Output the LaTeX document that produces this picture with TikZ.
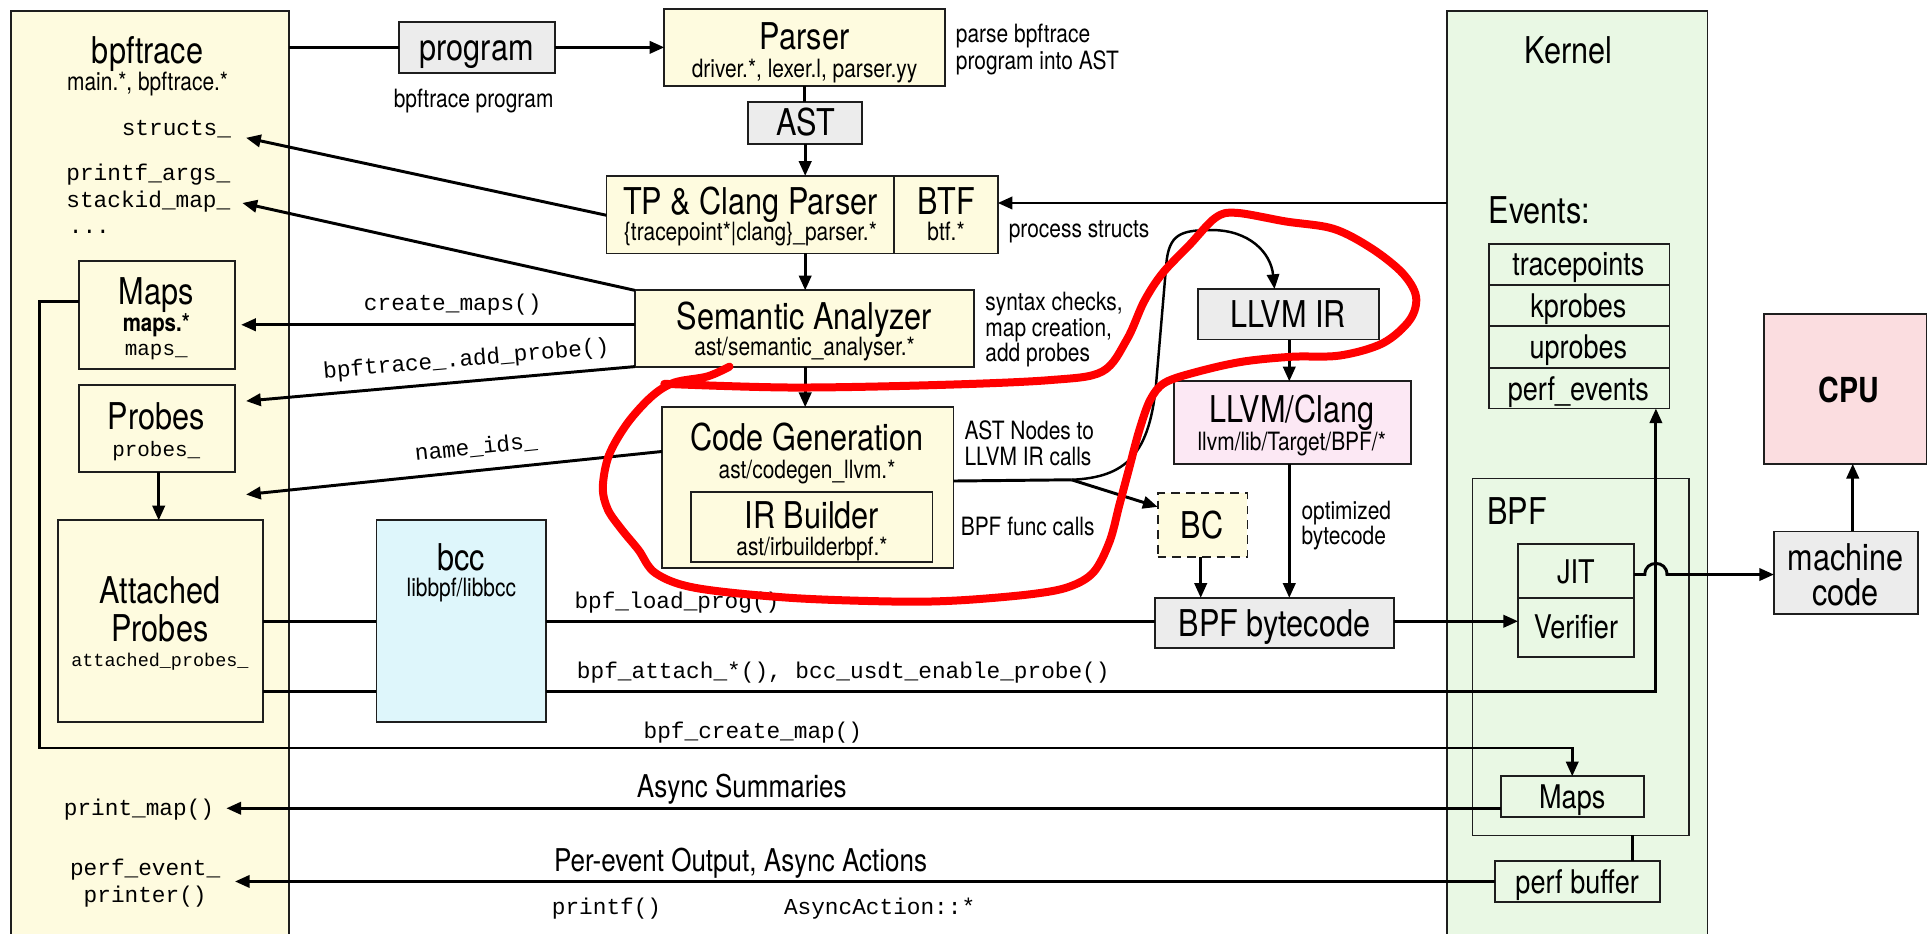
\documentclass[tikz,border=0pt]{standalone}
\usepackage{fontspec}
\setmainfont{TeX Gyre Heros}[FakeStretch=0.83]
\newfontfamily\monofnt{Liberation Mono}
\usetikzlibrary{arrows.meta}
\definecolor{cyel}{RGB}{254,251,223}
\definecolor{cgry}{RGB}{236,236,236}
\definecolor{ccyn}{RGB}{222,246,251}
\definecolor{cpnk}{RGB}{252,232,244}
\definecolor{ccpu}{RGB}{251,221,224}
\definecolor{cgrn}{RGB}{233,248,228}
\definecolor{cbrd}{RGB}{30,30,30}
\definecolor{cred}{RGB}{255,0,0}
\tikzset{
  box/.style={draw=cbrd, line width=1.5pt, inner sep=0pt, outer sep=0pt, anchor=north west},
  ybox/.style={box, fill=cyel},
  gbox/.style={box, fill=cgry},
  kbox/.style={box, fill=cgrn},
  ln/.style={line width=2.4pt, draw=black},
  arr/.style={ln, -{Triangle[length=12pt,width=10pt]}},
  lbl/.style={inner sep=0pt, outer sep=0pt},
  ttl/.style={lbl, font=\fontsize{30}{34}\selectfont, text height=21pt, text depth=0pt},
  sml/.style={lbl, font=\fontsize{20.5}{24}\selectfont, text height=14.5pt, text depth=0pt},
  smlb/.style={lbl, font=\bfseries\fontsize{20}{24}\selectfont, text height=14.5pt, text depth=0pt},
  med/.style={lbl, font=\fontsize{26.5}{30}\selectfont, text height=18.5pt, text depth=0pt},
  asy/.style={lbl, font=\fontsize{25.5}{30}\selectfont, text height=18pt, text depth=0pt},
  mon/.style={lbl, font=\monofnt\fontsize{18.5}{22}\selectfont, text height=11pt, text depth=0pt},
  mons/.style={lbl, font=\monofnt\fontsize{17}{20}\selectfont, text height=10pt, text depth=0pt},
  monxs/.style={lbl, font=\monofnt\fontsize{15}{18}\selectfont, text height=9pt, text depth=0pt},
}
\begin{document}
\begin{tikzpicture}[x=1pt,y=-1pt]
\useasboundingbox (0,0) rectangle (1568,759);
\clip (0,0) rectangle (1568,759);
% ---- big columns
\node[ybox, line width=1.3pt, minimum width=226pt, minimum height=770pt] (bpf) at (9,9) {};
\node[kbox, line width=1.3pt, minimum width=212pt, minimum height=770pt] (kernel) at (1176,9) {};
% ---- boxes
\node[gbox, minimum width=127pt, minimum height=41pt] (program) at (324,18) {};
\node[ybox, minimum width=228pt, minimum height=63pt] (parser) at (540,7) {};
\node[gbox, minimum width=93pt, minimum height=34pt] (ast) at (608,83) {};
\node[ybox, minimum width=234pt, minimum height=63pt] (tp) at (493,143) {};
\node[ybox, minimum width=84pt, minimum height=63pt] (btf) at (727,143) {};
\node[ybox, minimum width=276pt, minimum height=62pt] (sem) at (516,236) {};
\node[ybox, minimum width=237pt, minimum height=131pt] (cg) at (538,331) {};
\node[ybox, minimum width=196pt, minimum height=57pt] (irb) at (562,400) {};
\node[gbox, minimum width=147pt, minimum height=41pt] (llvmir) at (974,235) {};
\node[box, fill=cpnk, minimum width=193pt, minimum height=67pt] (clang) at (954,310) {};
\node[ybox, dashed, dash pattern=on 7pt off 5pt, minimum width=73pt, minimum height=52pt] (bc) at (941,401) {};
\node[gbox, minimum width=194pt, minimum height=41pt] (bytecode) at (939,486) {};
\node[ybox, minimum width=127pt, minimum height=88pt] (maps) at (64,212) {};
\node[ybox, minimum width=127pt, minimum height=71pt] (probes) at (64,313) {};
\node[ybox, minimum width=167pt, minimum height=164pt] (attached) at (47,423) {};
\node[box, fill=ccyn, minimum width=138pt, minimum height=164pt] (bcc) at (306,423) {};
\node[kbox, minimum width=147pt, minimum height=34pt] (ev1) at (1210,198) {};
\node[kbox, minimum width=147pt, minimum height=33pt] (ev2) at (1210,232) {};
\node[kbox, minimum width=147pt, minimum height=34pt] (ev3) at (1210,265) {};
\node[kbox, minimum width=147pt, minimum height=33pt] (ev4) at (1210,299) {};
\node[kbox, line width=1.3pt, minimum width=176pt, minimum height=290pt] (bpfbox) at (1197,389) {};
\node[kbox, minimum width=94pt, minimum height=44pt] (jit) at (1234,442) {};
\node[kbox, minimum width=94pt, minimum height=48pt] (verifier) at (1234,486) {};
\node[kbox, minimum width=116pt, minimum height=33pt] (kmaps) at (1220,631) {};
\node[kbox, minimum width=134pt, minimum height=33pt] (perfbuf) at (1215,700) {};
\node[box, fill=ccpu, minimum width=132pt, minimum height=122pt] (cpu) at (1434,255) {};
\node[gbox, minimum width=117pt, minimum height=67pt] (mcode) at (1442,432) {};
% ---- free ends
\coordinate (tStructs) at (200,112);
\coordinate (tStack) at (197,165);
\coordinate (tMaps) at (196,264);
\coordinate (tProbes) at (200,326);
\coordinate (tNames) at (200,402);
\coordinate (tPrint) at (184,657);
\coordinate (tPerf) at (191,716.5);
\coordinate (split) at (871,390);
% ---- connectors
\draw[ln] (bpf.east |- program.west) -- (program.west);
\draw[arr] (program.east) -- (parser.west);
\draw[ln] (parser.south) -- (parser.south |- ast.north);
\draw[arr] (ast.south) -- (ast.south |- tp.north);
\draw[arr] (ast.south |- tp.south) -- (ast.south |- sem.north);
\draw[arr] (ast.south |- sem.south) -- (ast.south |- cg.north);
\draw[arr] (kernel.west |- 0,165) -- (btf.east |- 0,165);
\draw[arr] (tp.west |- 0,175) -- (tStructs);
\draw[arr] (sem.north west) -- (tStack);
\draw[arr] (sem.west |- 0,264) -- (tMaps);
\draw[arr] (sem.south west) -- (tProbes);
\draw[arr] (cg.west |- 0,367) -- (tNames);
\draw[arr] (probes.south -| 129,0) -- (attached.north -| 129,0);
\draw[arr] (maps.west |- 0,245) -- (32,245) -- (32,608) -- (kmaps.north |- 0,608) -- (kmaps.north);
\draw[ln] (attached.east |- 0,505) -- (bcc.west |- 0,505);
\draw[ln] (bcc.east |- 0,505) -- (bytecode.west |- 0,505);
\draw[arr] (bytecode.east |- 0,505) -- (verifier.west |- 0,505);
\draw[ln] (attached.east |- 0,562) -- (bcc.west |- 0,562);
\draw[arr] (bcc.east |- 0,562) -- (1346,562) -- (ev4.south -| 1346,0);
\draw[arr] (jit.east |- 0,467) -- (1337,467) .. controls (1337,455) and (1355,455) .. (1355,467) -- (mcode.west |- 0,467);
\draw[arr] (mcode.north -| 1506,0) -- (cpu.south -| 1506,0);
\draw[arr] (kmaps.west |- 0,657) -- (tPrint);
\draw[arr] (perfbuf.west) -- (tPerf);
\draw[ln] (bpfbox.south -| 1327,0) -- (perfbuf.north -| 1327,0);
\draw[arr] (llvmir.south -| 1048,0) -- (clang.north -| 1048,0);
\draw[arr] (clang.south -| 1048,0) -- (bytecode.north -| 1048,0);
\draw[arr] (bc.south -| 976,0) -- (bytecode.north -| 976,0);
\draw[ln] (cg.east |- 0,391) -- (split);
\draw[arr, line width=2pt] (split) .. controls (915,388) and (935,370) .. (940,309) -- (948,215) .. controls (950,190) and (960,187) .. (985,187) .. controls (1015,187) and (1033,205) .. (llvmir.north -| 1036,0);
\draw[arr] (split) -- (bc.west |- 0,412);
% ---- texts
\node[ttl] (xBpf) at (120,41) {bpftrace};
\node[sml] (xBpfS) at (120,66) {main.*, bpftrace.*};
\node[mon, anchor=west] (xStructs) at (99,105) {structs\_};
\node[mon, anchor=west] (xPrintf) at (54,141) {printf\_args\_};
\node[mon, anchor=west] (xStack) at (54,163) {stackid\_map\_};
\node[mon, anchor=west] (xDots) at (56,184) {...};
\node[ttl] (xMaps) at (127,237) {Maps};
\node[smlb] (xMapsS) at (127,262) {maps.*};
\node[mons] (xMapsM) at (127,284) {maps\_};
\node[ttl] (xProbes) at (127,339) {Probes};
\node[mons] (xProbesM) at (127,366) {probes\_};
\node[ttl] (xAtt1) at (130,480) {Attached};
\node[ttl] (xAtt2) at (130,511) {Probes};
\node[monxs] (xAttM) at (130,537) {attached\_probes\_};
\node[ttl] (xBcc) at (375,453) {bcc};
\node[sml] (xBccS) at (375,478) {libbpf/libbcc};
\node[ttl] (xProgram) at (387.5,39) {program};
\node[sml] (xProgL) at (385,80) {bpftrace program};
\node[ttl] (xParser) at (654,30) {Parser};
\node[sml] (xParserS) at (654,56) {driver.*, lexer.l, parser.yy};
\node[sml, anchor=west] (xParse1) at (777,27) {parse bpftrace};
\node[sml, anchor=west] (xParse2) at (777,49) {program into AST};
\node[ttl] (xAst) at (655,100) {AST};
\node[ttl] (xTp) at (610,164) {TP \& Clang Parser};
\node[sml] (xTpS) at (610,188) {\{tracepoint*|clang\}\_parser.*};
\node[ttl] (xBtf) at (769,164) {BTF};
\node[sml] (xBtfS) at (769,188) {btf.*};
\node[sml, anchor=west] (xProc) at (820,186) {process structs};
\node[ttl] (xSem) at (654,257) {Semantic Analyzer};
\node[sml] (xSemS) at (654,282) {ast/semantic\_analyser.*};
\node[sml, anchor=west] (xSyn1) at (801,245) {syntax checks,};
\node[sml, anchor=west] (xSyn2) at (801,266) {map creation,};
\node[sml, anchor=west] (xSyn3) at (801,287) {add probes};
\node[ttl] (xCg) at (656,356) {Code Generation};
\node[sml] (xCgS) at (656,382) {ast/codegen\_llvm.*};
\node[ttl] (xIrb) at (660,419) {IR Builder};
\node[sml] (xIrbS) at (660,444) {ast/irbuilderbpf.*};
\node[sml, anchor=west] (xAstN1) at (784,350) {AST Nodes to};
\node[sml, anchor=west] (xAstN2) at (784,371) {LLVM IR calls};
\node[sml, anchor=west] (xFunc) at (781,428) {BPF func calls};
\node[ttl] (xLlvmIr) at (1047,256) {LLVM IR};
\node[ttl] (xClang) at (1050,333) {LLVM/Clang};
\node[sml] (xClangS) at (1050,359) {llvm/lib/Target/BPF/*};
\node[sml, anchor=west] (xOpt1) at (1058,415) {optimized};
\node[sml, anchor=west] (xOpt2) at (1058,435) {bytecode};
\node[ttl] (xBc) at (977,427) {BC};
\node[ttl] (xByte) at (1036,507) {BPF bytecode};
\node[ttl] (xKernel) at (1275,41) {Kernel};
\node[ttl, anchor=west] (xEvents) at (1210,171) {Events:};
\node[med] (xEv1) at (1283,215) {tracepoints};
\node[med] (xEv2) at (1283,249) {kprobes};
\node[med] (xEv3) at (1283,282) {uprobes};
\node[med] (xEv4) at (1283,316) {perf\_events};
\node[ttl, anchor=west] (xBpfK) at (1209,416) {BPF};
\node[med] (xJit) at (1281,465) {JIT};
\node[med] (xVer) at (1281,510) {Verifier};
\node[med] (xKMaps) at (1278,648) {Maps};
\node[med] (xPerfBuf) at (1282,717) {perf buffer};
\node[lbl, font=\bfseries\fontsize{28}{32}\selectfont, text height=20pt, text depth=0pt] (xCpu) at (1503,317) {CPU};
\node[ttl] (xMach1) at (1500,453) {machine};
\node[ttl] (xMach2) at (1500,482) {code};
\node[mon] (xCreate) at (368,247) {create\_maps()};
\node[mon, rotate=5] (xAdd) at (379,292) {bpftrace\_.add\_probe()};
\node[mon, rotate=6] (xNameIds) at (387,364) {name\_ids\_};
\node[mon, anchor=west] (xLoad) at (467,489) {bpf\_load\_prog()};
\node[mon, anchor=west] (xAttach) at (469,546) {bpf\_attach\_*(), bcc\_usdt\_enable\_probe()};
\node[mon] (xCreateMap) at (612,595) {bpf\_create\_map()};
\node[asy] (xAsync) at (603,639) {Async Summaries};
\node[mon] (xPrintMap) at (113,657) {print\_map()};
\node[asy] (xPerEv) at (602,699) {Per-event Output, Async Actions};
\node[mon] (xPep1) at (118,706) {perf\_event\_};
\node[mon] (xPep2) at (118,728) {printer()};
\node[mon] (xPrintf2) at (493,738) {printf()};
\node[mon] (xAsyncAct) at (715,738) {AsyncAction::*};
% ---- red hand-drawn annotation
\draw[cred, line width=6.5pt, line cap=round, line join=round] plot[smooth, tension=0.55] coordinates {
 (593,298) (575,306) (548,311) (530,322) (510,344) (495,370) (490,396) (494,414) (505,430) (519,447) (533,466) (566,478) (643,486) (729,489) (780,488) (838,483) (869,477) (889,465) (902,440) (910,410) (918,380) (926,350) (935,325) (947,311) (974,302) (1010,294) (1050,290) (1089,289) (1124,279) (1146,260) (1151,241) (1140,222) (1115,202) (1084,186) (1045,180) (1005,173) (988,177) (967,199) (945,222) (930,245) (916,276) (896,302) (853,309) (760,313) (643,315) (540,312)};
\end{tikzpicture}
\end{document}
